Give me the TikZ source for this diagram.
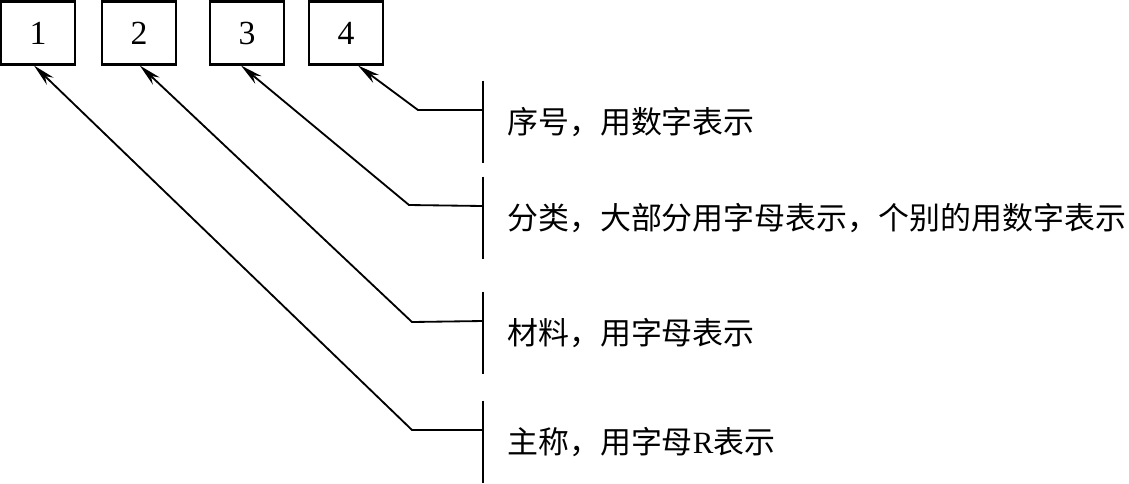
\documentclass[tikz,border=0pt]{standalone}
\usepackage{fontspec}
\setmainfont{Liberation Serif}
\newfontfamily\cjk{Noto Sans CJK SC}
\usetikzlibrary{arrows.meta}

\begin{document}
\begin{tikzpicture}[x=0.025cm, y=-0.025cm,
  box/.style={draw, line width=1.6pt, minimum width=1.85cm, minimum height=1.57cm, inner sep=0pt, font=\fontsize{24}{28}\selectfont},
  lbl/.style={anchor=west, minimum height=2.05cm, inner xsep=0.6cm, font=\fontsize{22}{26}\selectfont\cjk},
  bar/.style={line width=1.3pt},
  lead/.style={line width=1.3pt, -{Stealth[length=16pt, width=7pt]}}]
\useasboundingbox (0,0) rectangle (1129,483);

\node[box] (n1) at (38,33) {1};
\node[box] (n2) at (139,33) {2};
\node[box] (n3) at (247,33) {3};
\node[box] (n4) at (346,33) {4};

\node[lbl] (l4) at (483,122) {序号，用数字表示};
\node[lbl] (l3) at (483,218) {分类，大部分用字母表示，个别的用数字表示};
\node[lbl] (l2) at (483,333) {材料，用字母表示};
\node[lbl] (l1) at (483,442) {主称，用字母{\rmfamily R}表示};

\foreach \i in {1,...,4}
  \draw[bar] (l\i.north west) -- (l\i.south west);

\coordinate (b4) at (418,110);
\coordinate (b3) at (409,205);
\coordinate (b2) at (412,322);
\coordinate (b1) at (412,430);

\draw[lead] ([yshift=0.3cm]l4.west) -- (b4) -- ([xshift=0.3cm]n4.south);
\draw[lead] ([yshift=0.3cm]l3.west) -- (b3) -- ([xshift=-0.15cm]n3.south);
\draw[lead] ([yshift=0.3cm]l2.west) -- (b2) -- ([xshift=0.02cm]n2.south);
\draw[lead] ([yshift=0.3cm]l1.west) -- (b1) -- ([xshift=-0.1cm]n1.south);
\end{tikzpicture}
\end{document}
